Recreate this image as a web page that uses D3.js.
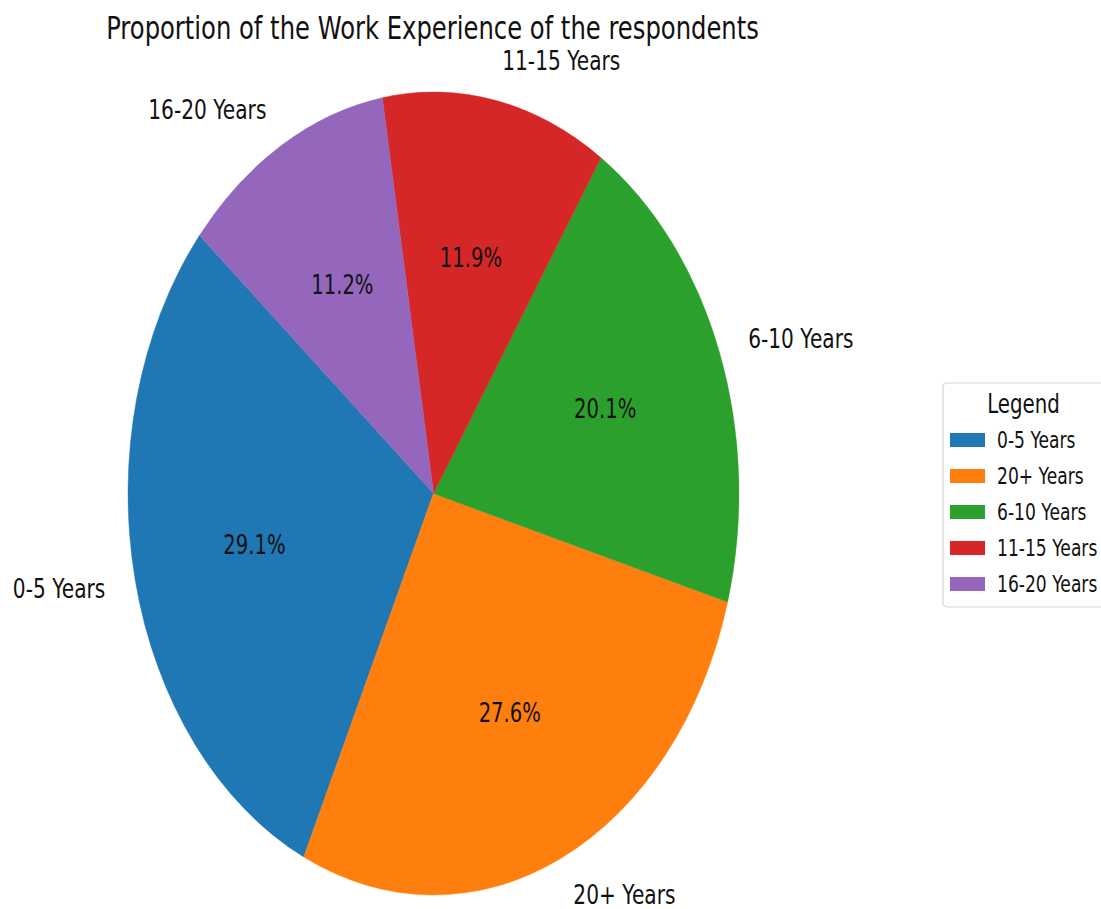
<!DOCTYPE html>
<html>
<head>
<meta charset="utf-8">
<script src="https://cdn.jsdelivr.net/npm/d3@7"></script>
<style>
  html, body { margin: 0; padding: 0; background: #fff; }
  svg { display: block; font-family: "DejaVu Sans", sans-serif; }
</style>
</head>
<body>
<svg id="chart" width="1101" height="909"></svg>
<script>
// Work experience groups, in drawing order (counter-clockwise from 140°)
const categories = ["0-5 Years", "20+ Years", "6-10 Years", "11-15 Years", "16-20 Years"];
const shares = [29.1, 27.6, 20.1, 11.9, 11.2];
const colors = ["#1f77b4", "#ff7f0e", "#2ca02c", "#d62728", "#9467bd"];
const chartTitle = "Proportion of the Work Experience of the respondents";
const legendTitle = "Legend";

const W = 1101, H = 909;
const cx = 433.5, cy = 493.5;
const ry = 401.5;            // vertical radius
const rx = 305.5;            // horizontal radius (figure is horizontally condensed)
const sx = rx / ry;          // horizontal squeeze applied to drawing and text

const svg = d3.select("#chart");

const data = categories.map((c, i) => ({ label: c, value: shares[i], color: colors[i] }));

// start at 140° (counter-clockwise from 3 o'clock), run counter-clockwise
const start = (90 - 140) * Math.PI / 180;
const pie = d3.pie().sort(null).value(d => d.value)
  .startAngle(start).endAngle(start - 2 * Math.PI);
const arcs = pie(data);

const arc = d3.arc().innerRadius(0).outerRadius(ry);

const g = svg.append("g").attr("transform", `translate(${cx},${cy}) scale(${sx},1)`);
g.selectAll("path").data(arcs).enter().append("path")
  .attr("d", arc)
  .attr("fill", d => d.data.color)
  .attr("stroke", d => d.data.color)
  .attr("stroke-width", 0.5);

function pointAt(d, f) {
  const a = (d.startAngle + d.endAngle) / 2;
  return [cx + Math.sin(a) * ry * f * sx, cy - Math.cos(a) * ry * f];
}

// category labels outside the pie
svg.selectAll("text.cat").data(arcs).enter().append("text")
  .attr("class", "cat")
  .attr("transform", d => { const p = pointAt(d, 1.1); return `translate(${p[0]},${p[1]}) scale(${sx},1)`; })
  .attr("text-anchor", d => pointAt(d, 1.1)[0] > cx ? "start" : "end")
  .attr("dominant-baseline", "central")
  .attr("font-size", 26.5)
  .attr("fill", "#111")
  .text(d => d.data.label);

// percentage labels inside the wedges
svg.selectAll("text.pct").data(arcs).enter().append("text")
  .attr("class", "pct")
  .attr("transform", d => { const p = pointAt(d, 0.6); return `translate(${p[0]},${p[1]}) scale(${sx},1)`; })
  .attr("text-anchor", "middle")
  .attr("dominant-baseline", "central")
  .attr("font-size", 25.8)
  .attr("fill", "#111")
  .text(d => d3.format(".1f")(d.data.value) + "%");

// title
svg.append("text")
  .attr("transform", `translate(${432.5},${28}) scale(${sx},1)`)
  .attr("text-anchor", "middle")
  .attr("dominant-baseline", "central")
  .attr("font-size", 31.9)
  .attr("fill", "#111")
  .text(chartTitle);

// legend
const lg = svg.append("g").attr("transform", "translate(943,383)");
lg.append("rect")
  .attr("x", 0).attr("y", 0).attr("width", 175).attr("height", 224)
  .attr("rx", 4).attr("ry", 4)
  .attr("fill", "#fff").attr("stroke", "#d5d5d5").attr("stroke-width", 1.2);
lg.append("text")
  .attr("transform", `translate(80.5,21) scale(${sx},1)`)
  .attr("text-anchor", "middle")
  .attr("dominant-baseline", "central")
  .attr("font-size", 26)
  .attr("fill", "#111")
  .text(legendTitle);
const items = lg.selectAll("g.item").data(data).enter().append("g")
  .attr("class", "item")
  .attr("transform", (d, i) => `translate(0,${57 + i * 36})`);
items.append("rect")
  .attr("x", 7).attr("y", -7).attr("width", 35).attr("height", 14)
  .attr("fill", d => d.color);
items.append("text")
  .attr("transform", `translate(54,0) scale(${sx},1)`)
  .attr("dominant-baseline", "central")
  .attr("font-size", 22.5)
  .attr("fill", "#111")
  .text(d => d.label);
</script>
</body>
</html>
